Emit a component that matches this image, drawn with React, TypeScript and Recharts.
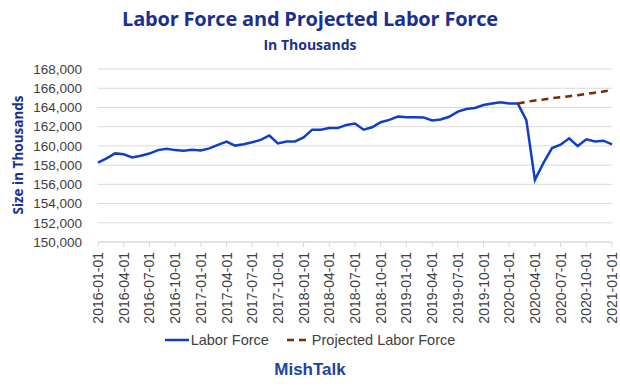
import { CartesianGrid, Line, LineChart, XAxis, YAxis } from 'recharts';

const MONTHS: string[] = [];
for (let y = 2016; y <= 2021; y++) {
  for (let m = 1; m <= 12; m++) {
    if (y === 2021 && m > 1) break;
    MONTHS.push(`${y}-${String(m).padStart(2, '0')}-01`);
  }
}

const LABOR_FORCE = [
  158270, 158700, 159220, 159120, 158800, 158970, 159200, 159560, 159700, 159560, 159500, 159600,
  159530, 159740, 160100, 160450, 160030, 160170, 160380, 160620, 161080, 160250, 160460, 160460,
  160880, 161690, 161690, 161860, 161860, 162180, 162320, 161690, 161940, 162460, 162710, 163060,
  162990, 162990, 162960, 162640, 162740, 163030, 163560, 163840, 163950, 164260, 164400, 164540,
  164400, 164400, 162680, 156470, 158230, 159770, 160120, 160790, 159980, 160680, 160470, 160540,
  160160,
];

// projection starts 2020-02
const PROJ_START = 49;
const PROJECTED = [
  164400, 164580, 164720, 164820, 164960, 165070, 165170, 165280, 165400, 165530, 165650, 165850,
];

const Y_TICKS = [150000, 152000, 154000, 156000, 158000, 160000, 162000, 164000, 166000, 168000];

const data = MONTHS.map((date, i) => ({
  date,
  labor: LABOR_FORCE[i],
  projected: i >= PROJ_START ? PROJECTED[i - PROJ_START] : null,
}));

const NAVY = '#1b2f8f';
const BLUE = '#0f3fc6';
const BROWN = '#7a2a00';
const FONT = '"Liberation Sans", Arial, sans-serif';

const XTick = ({ x, y, payload }: any) => (
  <text
    x={x}
    y={y}
    transform={`rotate(-90, ${x}, ${y})`}
    dx={-3}
    dy={5}
    textAnchor="end"
    fontSize={14}
    fill="#404040"
    fontFamily={FONT}
  >
    {payload.value}
  </text>
);

export default function App() {
  return (
    <div
      style={{
        position: 'absolute',
        left: 0,
        top: 0,
        width: 620,
        height: 391,
        background: '#fff',
        fontFamily: FONT,
      }}
    >
      <div
        style={{
          position: 'absolute',
          top: 5,
          width: 620,
          textAlign: 'center',
          fontWeight: 'bold',
          fontSize: 20,
          color: NAVY,
          fontFamily: '"Open Sans", sans-serif',
          letterSpacing: -0.2,
        }}
      >
        Labor Force and Projected Labor Force
      </div>
      <div
        style={{
          position: 'absolute',
          top: 35,
          width: 620,
          textAlign: 'center',
          fontWeight: 'bold',
          fontSize: 14,
          color: NAVY,
          fontFamily: '"Open Sans", sans-serif',
        }}
      >
        In Thousands
      </div>
      <div
        style={{
          position: 'absolute',
          left: 18,
          top: 155,
          transform: 'translate(-50%, -50%) rotate(-90deg)',
          whiteSpace: 'nowrap',
          fontWeight: 'bold',
          fontSize: 13.5,
          color: NAVY,
          fontFamily: '"Open Sans", sans-serif',
        }}
      >
        Size in Thousands
      </div>

      <LineChart
        width={620}
        height={391}
        data={data}
        margin={{ top: 69, right: 8, left: 0, bottom: 59 }}
        style={{ position: 'absolute', left: 0, top: 0 }}
      >
        <CartesianGrid vertical={false} stroke="#d9d9d9" />
        <XAxis
          dataKey="date"
          interval={2}
          height={90}
          tick={<XTick />}
          tickLine={{ stroke: '#d9d9d9' }}
          tickSize={5}
          axisLine={{ stroke: '#d9d9d9' }}
        />
        <YAxis
          width={98}
          domain={[150000, 168000]}
          ticks={Y_TICKS}
          interval={0}
          axisLine={false}
          tickLine={false}
          tickMargin={10}
          tickFormatter={(v: number) => v.toLocaleString('en-US')}
          tick={{ fontSize: 13.5, fill: '#404040', fontFamily: FONT }}
        />
        <Line
          type="linear"
          dataKey="labor"
          stroke={BLUE}
          strokeWidth={2.5}
          dot={false}
          isAnimationActive={false}
        />
        <Line
          type="linear"
          dataKey="projected"
          stroke={BROWN}
          strokeWidth={2.5}
          strokeDasharray="7 5"
          dot={false}
          connectNulls={false}
          isAnimationActive={false}
        />
      </LineChart>

      <div
        style={{
          position: 'absolute',
          top: 332,
          width: 620,
          display: 'flex',
          justifyContent: 'center',
          alignItems: 'center',
          fontSize: 14.5,
          color: '#404040',
        }}
      >
        <svg width={24} height={6} style={{ marginRight: 2 }}>
          <line x1={0} y1={3} x2={24} y2={3} stroke={BLUE} strokeWidth={2.5} />
        </svg>
        <span style={{ marginRight: 18 }}>Labor Force</span>
        <svg width={22} height={6} style={{ marginRight: 3 }}>
          <line x1={0} y1={3} x2={22} y2={3} stroke={BROWN} strokeWidth={2.5} strokeDasharray="7 5" />
        </svg>
        <span>Projected Labor Force</span>
      </div>
      <div
        style={{
          position: 'absolute',
          top: 360,
          width: 620,
          textAlign: 'center',
          fontWeight: 'bold',
          fontSize: 17,
          color: '#2343a0',
        }}
      >
        MishTalk
      </div>
    </div>
  );
}
